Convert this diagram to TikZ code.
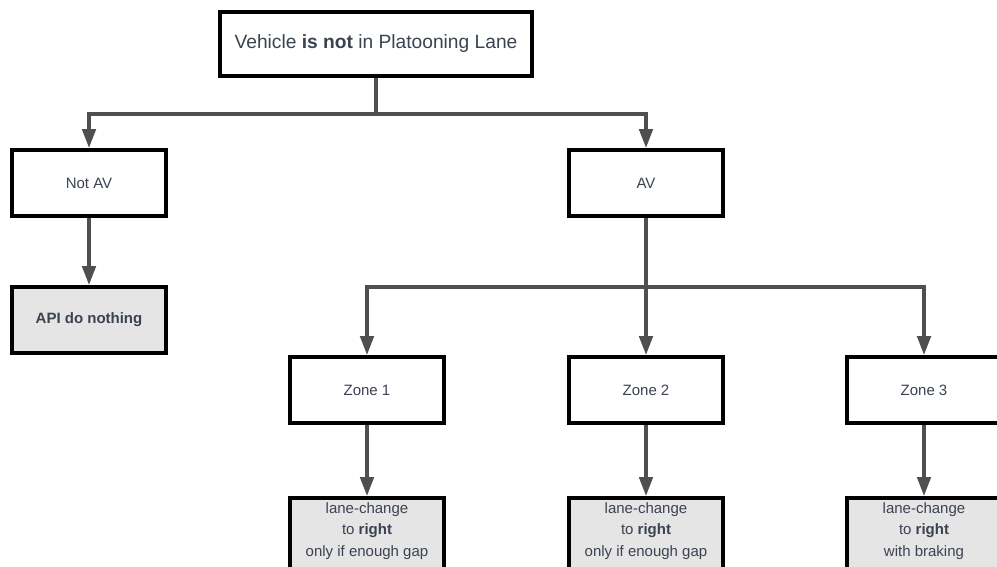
\documentclass[tikz,border=0pt]{standalone}
\usepackage{fontspec}
\setmainfont{Liberation Sans}
\usetikzlibrary{arrows.meta}
\definecolor{txt}{HTML}{3B4350}
\definecolor{wire}{HTML}{4F4F4F}
\definecolor{leaf}{HTML}{E5E5E5}
\tikzset{
  x=1pt, y=-1pt,
  box/.style={draw=black, line width=3.7pt, fill=white, inner sep=0pt,
    minimum width=154.3pt, minimum height=66.3pt, text=txt,
    font=\fontsize{15}{17}\selectfont, align=center},
  leafbox/.style={box, fill=leaf},
  arr/.style={draw=wire, line width=3.4pt,
    -{Triangle[length=19pt,width=13.5pt]}},
  wire/.style={draw=wire, line width=3.4pt}
}
\begin{document}
\begin{tikzpicture}
\useasboundingbox (0,0) rectangle (997,566);
\clip (0,0) rectangle (997,566);
% root
\node[box, minimum width=312.3pt, minimum height=64.3pt,
  font=\fontsize{19.2}{22}\selectfont] (top) at (376,44)
  {Vehicle \textbf{is not} in Platooning Lane};
% first level
\node[box] (notav) at (89,183) {Not AV};
\node[box] (av) at (646,183) {AV};
\node[leafbox] (api) at (89,320) {\textbf{API do nothing}};
% zones
\node[box] (z1) at (367,390) {Zone 1};
\node[box] (z2) at (646,390) {Zone 2};
\node[box] (z3) at (924,390) {Zone 3};
% actions
\tikzset{action/.style={leafbox, minimum height=86pt, anchor=north,
  font=\fontsize{15}{21.5}\selectfont}}
\node[action] (r1) at (367,496)
  {lane-change\\to \textbf{right}\\only if enough gap\\[-5pt]\strut};
\node[action] (r2) at (646,496)
  {lane-change\\to \textbf{right}\\only if enough gap\\[-5pt]\strut};
\node[action] (r3) at (924,496)
  {lane-change\\to \textbf{right}\\with braking\\[-5pt]\strut};
% connectors
\coordinate (split) at (376,114);
\coordinate (avsplit) at (646,287);
\draw[wire] (top.south) -- (split);
\draw[arr] (split) -| (notav.north);
\draw[arr] (split) -| (av.north);
\draw[arr] (notav.south) -- (api.north);
\draw[arr] (av.south) -- (z2.north);
\draw[arr] (avsplit) -| (z1.north);
\draw[arr] (avsplit) -| (z3.north);
\draw[arr] (z1.south) -- (r1.north);
\draw[arr] (z2.south) -- (r2.north);
\draw[arr] (z3.south) -- (r3.north);
\end{tikzpicture}
\end{document}
